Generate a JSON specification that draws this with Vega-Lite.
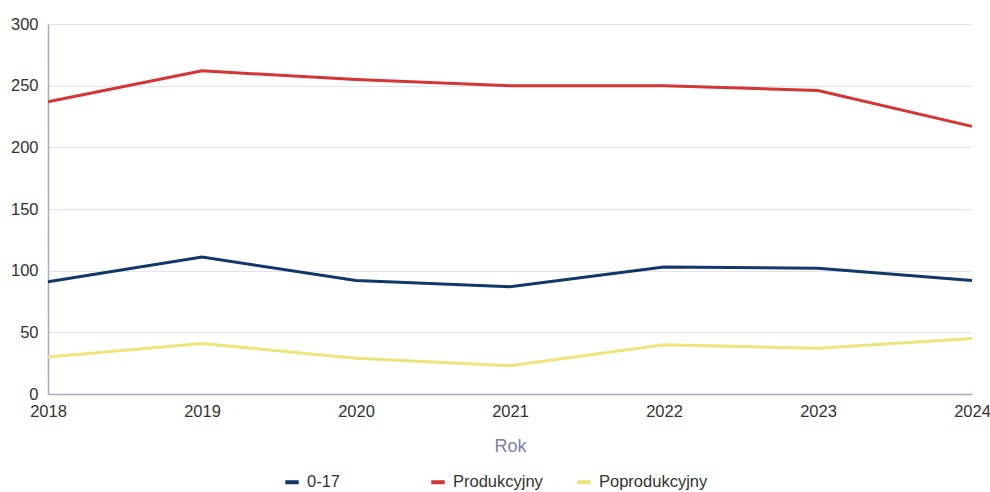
{
  "$schema": "https://vega.github.io/schema/vega-lite/v6.json",
  "width": 924,
  "height": 370,
  "autosize": {"type": "none"},
  "padding": {"left": 48, "top": 24, "right": 18, "bottom": 98},
  "background": "white",
  "data": {
    "values": [
      {"rok": 2018, "grupa": "0-17", "v": 91},
      {"rok": 2019, "grupa": "0-17", "v": 111},
      {"rok": 2020, "grupa": "0-17", "v": 92},
      {"rok": 2021, "grupa": "0-17", "v": 87},
      {"rok": 2022, "grupa": "0-17", "v": 103},
      {"rok": 2023, "grupa": "0-17", "v": 102},
      {"rok": 2024, "grupa": "0-17", "v": 92},
      {"rok": 2018, "grupa": "Produkcyjny", "v": 237},
      {"rok": 2019, "grupa": "Produkcyjny", "v": 262},
      {"rok": 2020, "grupa": "Produkcyjny", "v": 255},
      {"rok": 2021, "grupa": "Produkcyjny", "v": 250},
      {"rok": 2022, "grupa": "Produkcyjny", "v": 250},
      {"rok": 2023, "grupa": "Produkcyjny", "v": 246},
      {"rok": 2024, "grupa": "Produkcyjny", "v": 217},
      {"rok": 2018, "grupa": "Poprodukcyjny", "v": 30},
      {"rok": 2019, "grupa": "Poprodukcyjny", "v": 41},
      {"rok": 2020, "grupa": "Poprodukcyjny", "v": 29},
      {"rok": 2021, "grupa": "Poprodukcyjny", "v": 23},
      {"rok": 2022, "grupa": "Poprodukcyjny", "v": 40},
      {"rok": 2023, "grupa": "Poprodukcyjny", "v": 37},
      {"rok": 2024, "grupa": "Poprodukcyjny", "v": 45}
    ]
  },
  "mark": {"type": "line", "strokeWidth": 3},
  "encoding": {
    "x": {
      "field": "rok",
      "type": "quantitative",
      "scale": {"domain": [2018, 2024], "nice": false, "zero": false},
      "axis": {
        "title": "Rok",
        "values": [2018, 2019, 2020, 2021, 2022, 2023, 2024],
        "format": "d",
        "labelFlush": false,
        "grid": false,
        "ticks": false,
        "domainColor": "#a9abc4",
        "domainWidth": 1.5,
        "labelFont": "Liberation Sans",
        "labelFontSize": 16.5,
        "labelColor": "#333333",
        "labelPadding": 9,
        "titleFont": "Liberation Sans",
        "titleFontSize": 18,
        "titleFontWeight": "normal",
        "titleColor": "#7a82a8",
        "titlePadding": 18
      }
    },
    "y": {
      "field": "v",
      "type": "quantitative",
      "scale": {"domain": [0, 300], "nice": false},
      "axis": {
        "title": null,
        "values": [0, 50, 100, 150, 200, 250, 300],
        "ticks": false,
        "gridColor": "#e3e3ec",
        "gridWidth": 1,
        "domainColor": "#a9abc4",
        "domainWidth": 1.5,
        "labelFont": "Liberation Sans",
        "labelFontSize": 16.5,
        "labelColor": "#333333",
        "labelPadding": 10
      }
    },
    "color": {
      "field": "grupa",
      "type": "nominal",
      "scale": {
        "domain": ["0-17", "Produkcyjny", "Poprodukcyjny"],
        "range": ["#12386b", "#d43535", "#eee47a"]
      },
      "legend": {
        "title": null,
        "orient": "none",
        "direction": "horizontal",
        "columns": 3,
        "gridAlign": "all",
        "legendX": 235,
        "legendY": 449,
        "symbolType": "stroke",
        "symbolStrokeWidth": 4,
        "symbolSize": 180,
        "labelFont": "Liberation Sans",
        "labelFontSize": 16.5,
        "labelColor": "#333333",
        "labelOffset": 6,
        "columnPadding": 7,
        "labelLimit": 200,
        "symbolLimit": 0
      }
    }
  },
  "config": {"view": {"stroke": null}}
}
